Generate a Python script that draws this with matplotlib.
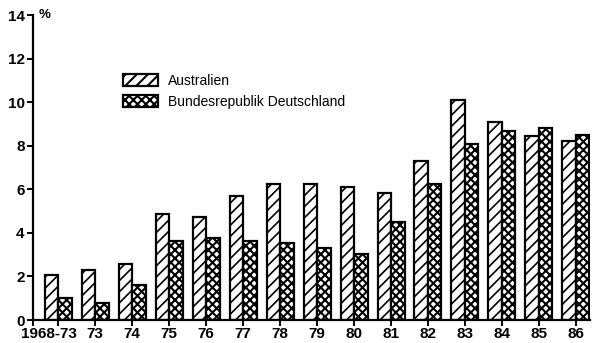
import numpy as np
import matplotlib
matplotlib.use("Agg")
import matplotlib.pyplot as plt
import matplotlib.transforms as mtransforms

# Werte (%)
jahre = ["1968-73", "73", "74", "75", "76", "77", "78", "79", "80",
         "81", "82", "83", "84", "85", "86"]
australien = [2.05, 2.3, 2.55, 4.85, 4.75, 5.7, 6.25, 6.25, 6.1,
              5.85, 7.3, 10.1, 9.1, 8.45, 8.2]
brd = [1.0, 0.8, 1.6, 3.65, 3.75, 3.65, 3.55, 3.3, 3.05,
       4.5, 6.25, 8.1, 8.7, 8.8, 8.5]

plt.rcParams['font.family'] = ['Liberation Sans', 'DejaVu Sans']

fig = plt.figure(figsize=(5.99, 3.43), dpi=100)
ax = fig.add_axes([0.055, 0.067, 0.93, 0.889])

x = np.arange(len(jahre))
w = 0.365
plt.rcParams['hatch.linewidth'] = 1.2
ax.bar(x - w / 2, australien, w, facecolor='white', edgecolor='black',
       hatch='///', linewidth=1.6, label='Australien')
plt.rcParams['hatch.linewidth'] = 1.5
ax.bar(x + w / 2, brd, w, facecolor='white', edgecolor='black',
       hatch='xxxx', linewidth=1.6, label='Bundesrepublik Deutschland')

ax.set_xlim(-0.68, 14.38)
ax.set_ylim(0, 14)
ax.set_yticks(range(0, 15, 2))
ax.set_xticks(x)
ax.set_xticklabels(jahre)
ax.set_xticks([-0.68], minor=True)
ax.tick_params(axis='both', which='both', direction='out', width=1.4,
               length=4, labelsize=11)
for lab in ax.get_xticklabels() + ax.get_yticklabels():
    lab.set_fontweight('bold')
ax.tick_params(axis='x', pad=1)
ax.tick_params(axis='y', pad=2)

# erstes Label etwas nach links, wie in der Vorlage
first = ax.get_xticklabels()[0]
first.set_transform(first.get_transform() +
                    mtransforms.ScaledTranslation(-9 / 100, 0, fig.dpi_scale_trans))

for s in ['top', 'right']:
    ax.spines[s].set_visible(False)
for s in ['left', 'bottom']:
    ax.spines[s].set_linewidth(1.6)

ax.text(0.01, 1.0, '%', transform=ax.transAxes, fontsize=9.5,
        fontweight='bold', va='center', ha='left')

ax.legend(loc='upper left', bbox_to_anchor=(0.15, 0.83), frameon=False,
          fontsize=10, handlelength=2.5, handleheight=1.0,
          handletextpad=0.7, labelspacing=0.5, borderpad=0)

fig.savefig('out.png', dpi=100)
